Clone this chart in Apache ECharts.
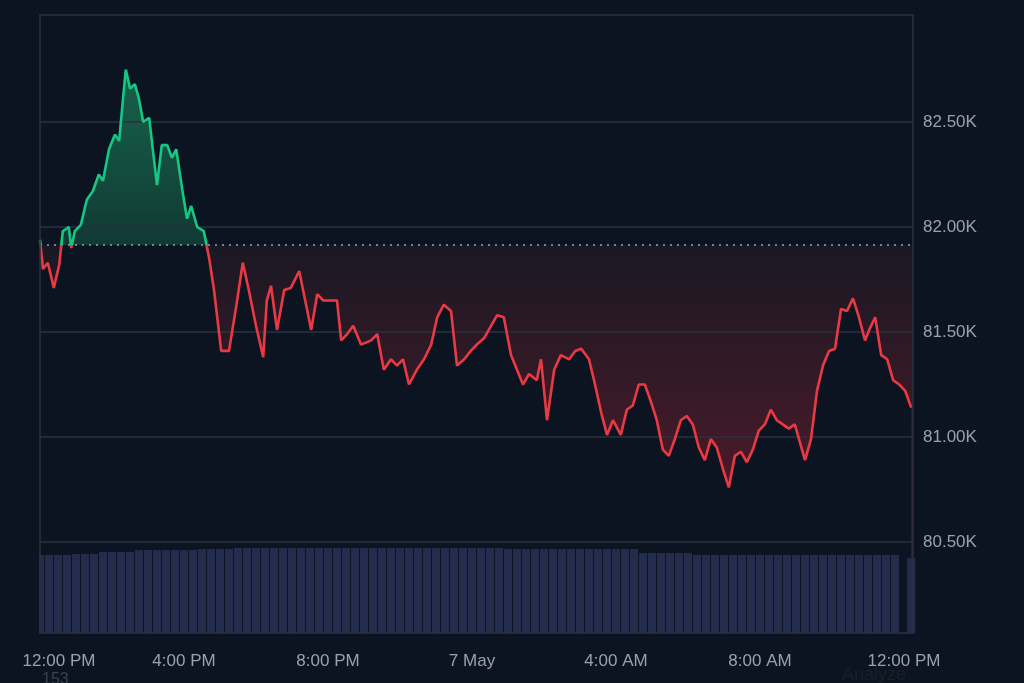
<!DOCTYPE html>
<html>
<head>
    <meta charset="utf-8" />
    <title>BTC 24h</title>
    <script src="https://cdn.jsdelivr.net/npm/echarts@6/dist/echarts.min.js"></script>
    <style>
        html, body { margin: 0; padding: 0; background: #0d1421; }
        #main { width: 1024px; height: 683px; }
    </style>
</head>
<body>
    <div id="main"></div>
    <script>
        // minutes after 12:00 PM
        var times = [0, 5, 13, 23, 32, 38, 48, 52, 58, 68, 78, 88, 98, 105, 115, 125, 132, 138, 143, 150,
            158, 165, 172, 182, 188, 195, 203, 212, 220, 227, 237, 245, 252, 262, 273, 282, 290, 302, 315, 328,
            338, 348, 360, 372, 378, 385, 395, 407, 418, 432, 442, 452, 462, 472, 485, 495, 502, 512, 522, 535,
            552, 562, 573, 585, 595, 605, 615, 628, 640, 652, 662, 673, 685, 695, 707, 718, 728, 740, 752, 762,
            773, 785, 795, 805, 815, 828, 835, 845, 857, 868, 882, 892, 902, 915, 925, 935, 945, 955, 968, 978,
            988, 998, 1008, 1018, 1028, 1038, 1048, 1058, 1068, 1078, 1088, 1098, 1108, 1118, 1128, 1138, 1148, 1158, 1168, 1178,
            1188, 1198, 1208, 1218, 1228, 1238, 1248, 1258, 1265, 1275, 1285, 1295, 1305, 1315, 1325, 1335, 1345, 1355, 1365, 1375,
            1382, 1392, 1402, 1412, 1422, 1432, 1442, 1452];
        // price in thousands
        var prices = [81.94, 81.80, 81.83, 81.71, 81.82, 81.98, 82.00, 81.90, 81.98, 82.01, 82.13, 82.17, 82.25, 82.22, 82.37, 82.44, 82.41, 82.60, 82.75, 82.66,
            82.68, 82.61, 82.50, 82.52, 82.37, 82.20, 82.39, 82.39, 82.33, 82.37, 82.18, 82.04, 82.10, 82.00, 81.98, 81.85, 81.70, 81.41, 81.41, 81.64,
            81.83, 81.70, 81.53, 81.38, 81.65, 81.72, 81.51, 81.70, 81.71, 81.79, 81.65, 81.51, 81.68, 81.65, 81.65, 81.65, 81.46, 81.49, 81.53, 81.44,
            81.46, 81.49, 81.32, 81.37, 81.34, 81.37, 81.25, 81.32, 81.37, 81.44, 81.57, 81.63, 81.60, 81.34, 81.37, 81.41, 81.44, 81.47, 81.53, 81.58,
            81.57, 81.39, 81.32, 81.25, 81.30, 81.27, 81.37, 81.08, 81.32, 81.39, 81.37, 81.41, 81.42, 81.37, 81.25, 81.12, 81.01, 81.08, 81.01, 81.13,
            81.15, 81.25, 81.25, 81.17, 81.08, 80.94, 80.91, 80.99, 81.08, 81.10, 81.06, 80.95, 80.89, 80.99, 80.95, 80.85, 80.76, 80.91, 80.93, 80.88,
            80.94, 81.03, 81.06, 81.13, 81.08, 81.06, 81.04, 81.06, 80.99, 80.89, 80.99, 81.22, 81.34, 81.41, 81.42, 81.61, 81.60, 81.66, 81.57, 81.46,
            81.51, 81.57, 81.39, 81.37, 81.27, 81.25, 81.22, 81.14];
        var openPrice = 81.914;
        // volume per 15 min slot (relative)
        var volumes = [78, 78, 78, 78, 79, 79, 79, 81, 81, 81, 81, 83, 83, 83, 83, 83, 83, 83, 84, 84,
            84, 84, 85, 85, 85, 85, 85, 85, 85, 85, 85, 85, 85, 85, 85, 85, 85, 85, 85, 85,
            85, 85, 85, 85, 85, 85, 85, 85, 85, 85, 85, 85, 84, 84, 84, 84, 84, 84, 84, 84,
            84, 84, 84, 84, 84, 84, 84, 80, 80, 80, 80, 80, 80, 78, 78, 78, 78, 78, 78, 78,
            78, 78, 78, 78, 78, 78, 78, 78, 78, 78, 78, 78, 78, 78, 78, 78];
        var lastVolume = [1452, 75];
        var priceTicks = [80.5, 81, 81.5, 82, 82.5];
        var timeTicks = { 0: '12:00 PM', 240: '4:00 PM', 480: '8:00 PM', 720: '7 May', 960: '4:00 AM', 1200: '8:00 AM', 1440: '12:00 PM' };

        var priceData = times.map(function (t, i) { return [t, prices[i]]; });
        var highData = times.map(function (t, i) { return [t, Math.max(prices[i], openPrice)]; });
        var lowData = times.map(function (t, i) { return [t, Math.min(prices[i], openPrice)]; });
        var openData = [[0, openPrice], [1455, openPrice]];
        var volData = volumes.map(function (v, i) { return [i * 15, v]; });
        volData.push(lastVolume);

        var bg = '#0d1421';
        var gridColor = '#2a3040';
        var labelColor = '#9aa0ad';
        var font = 'Liberation Sans';
        var myChart = echarts.init(document.getElementById('main'));
        // filled area down to the axis bottom; later ones paint over earlier ones
        var fill = function (data, color) {
            return {
                type: 'line', xAxisIndex: 0, yAxisIndex: 0, data: data, silent: true,
                showSymbol: false, lineStyle: { width: 0 },
                areaStyle: { color: color, opacity: 1, origin: 'start' }, z: 0
            };
        };
        // horizontal guide line at a price level
        var level = function (v, style) {
            return {
                type: 'line', xAxisIndex: 0, yAxisIndex: 0, data: [[0, v], [1455, v]], silent: true,
                showSymbol: false, lineStyle: style, z: 1
            };
        };
        var series = [
            fill(highData, new echarts.graphic.LinearGradient(0, 0, 0, 1, [
                { offset: 0, color: '#17634b' }, { offset: 0.3, color: '#113a35' }, { offset: 1, color: bg }])),
            fill(openData, new echarts.graphic.LinearGradient(0, 0, 0, 1, [
                { offset: 0, color: '#1a1824' }, { offset: 0.6, color: '#4a1a28' }, { offset: 1, color: '#4a1a28' }])),
            fill(lowData, bg),
            {
                type: 'line', xAxisIndex: 0, yAxisIndex: 0, data: priceData,
                showSymbol: false, lineStyle: { width: 2.6 }, z: 3
            },
            level(openPrice, { color: '#9aa0ad', type: [2, 5], width: 1.5 }),
            {
                type: 'bar', xAxisIndex: 1, yAxisIndex: 1, data: volData, clip: true,
                barWidth: 8, itemStyle: { color: '#232c4d' }, z: 5
            }
        ];
        priceTicks.forEach(function (v) {
            series.push(level(v, { color: gridColor, width: 1.5 }));
        });

        var option = {
            backgroundColor: bg,
            animation: false,
            grid: [
                { left: 40, right: 111, top: 17, bottom: 36, show: false },
                { left: 40, right: 111, top: 542, bottom: 50, show: false }
            ],
            xAxis: [
                { type: 'value', gridIndex: 0, min: 0, max: 1455, show: false },
                {
                    type: 'value', gridIndex: 1, min: 0, max: 1455, interval: 240,
                    axisLine: { show: false }, axisTick: { show: false }, splitLine: { show: false },
                    axisLabel: {
                        color: labelColor, fontSize: 17, margin: 20, fontFamily: font,
                        formatter: function (v) { return v === 0 ? '{a|12:00 PM}' : (timeTicks[v] || ''); },
                        rich: { a: { color: labelColor, fontSize: 17, fontFamily: font, padding: [0, 0, 0, 38] } }
                    }
                }
            ],
            yAxis: [
                {
                    type: 'value', gridIndex: 0, position: 'right', min: 80, max: 83,
                    axisLine: { show: false },
                    axisTick: { show: false }, splitLine: { show: false },
                    axisLabel: {
                        color: labelColor, fontSize: 17, margin: 10, fontFamily: font,
                        customValues: priceTicks,
                        formatter: function (v) { return v.toFixed(2) + 'K'; }
                    }
                },
                { type: 'value', gridIndex: 1, min: 0, max: 91, show: false }
            ],
            visualMap: {
                type: 'piecewise', show: false, seriesIndex: 3, dimension: 1,
                pieces: [{ min: 79, max: openPrice, color: '#ea3943' }, { min: openPrice, max: 84, color: '#16c784' }],
                outOfRange: { color: '#ea3943' }
            },
            graphic: [
                { type: 'rect', shape: { x: 40, y: 15, width: 873, height: 618 }, style: { fill: 'none', stroke: gridColor, lineWidth: 1.5 }, silent: true, z: 10 },
                { type: 'rect', shape: { x: 0, y: 634, width: 1024, height: 20 }, style: { fill: bg }, silent: true, z: 9 },
                { type: 'rect', shape: { x: 0, y: 530, width: 39, height: 110 }, style: { fill: bg }, silent: true, z: 9 },
                { type: 'text', left: 42, top: 672, style: { text: '153', fill: '#3a4050', fontSize: 16, fontFamily: font }, z: 10 },
                { type: 'text', left: 842, top: 666, style: { text: 'Analyze', fill: '#1b1f27', fontSize: 18, fontFamily: font }, z: 10 }
            ],
            series: series
        };
        myChart.setOption(option);
    </script>
</body>
</html>
